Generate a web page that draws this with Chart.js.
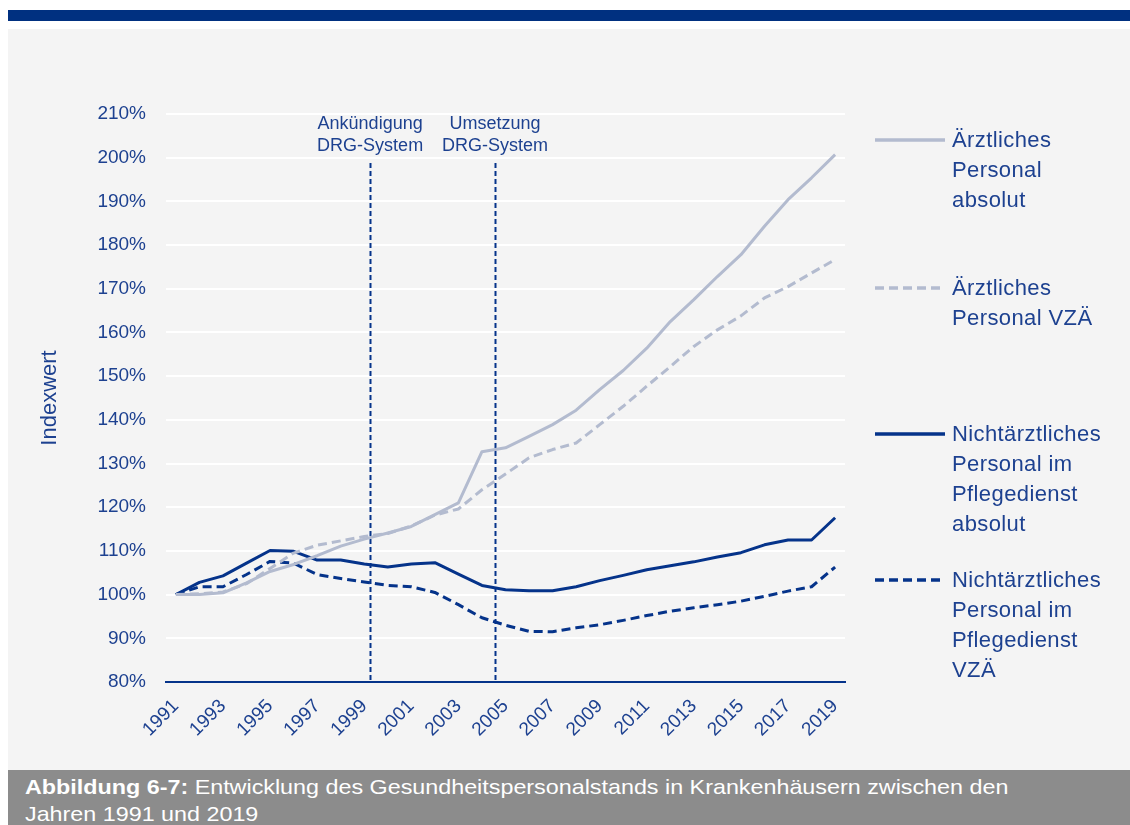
<!DOCTYPE html>
<html>
<head>
<meta charset="utf-8">
<script src="https://cdn.jsdelivr.net/npm/chart.js@4.4.1/dist/chart.umd.min.js"></script>
<style>
  html, body { margin:0; padding:0; background:#ffffff; width:1130px; height:825px; overflow:hidden; font-family:"Liberation Sans", Arial, sans-serif; }
  #bar { position:absolute; left:8px; top:10px; width:1122px; height:11px; background:#003080; }
  #panel { position:absolute; left:8px; top:29px; width:1122px; height:741px; background:#f4f4f4; }
  #capbox { position:absolute; left:8px; top:770px; width:1122px; height:55px; background:#8c8c8c; overflow:hidden; }
  #caption { position:absolute; left:17px; top:3px; color:#ffffff; white-space:nowrap;
             font-size:21px; line-height:27px; transform:scaleX(1.11); transform-origin:0 0; }
  #wrap { position:absolute; left:0; top:0; width:1130px; height:825px; }
</style>
</head>
<body>
<div id="bar"></div>
<div id="panel"></div>
<div id="capbox"><div id="caption"><b>Abbildung 6-7:</b> Entwicklung des Gesundheitspersonalstands in Krankenhäusern zwischen den<br>Jahren 1991 und 2019</div></div>
<div id="wrap"><canvas id="c" width="1130" height="825"></canvas></div>
<script>
const years = [1991,1992,1993,1994,1995,1996,1997,1998,1999,2000,2001,2002,2003,2004,2005,2006,2007,2008,2009,2010,2011,2012,2013,2014,2015,2016,2017,2018,2019];
const tickYears = [1991,1993,1995,1997,1999,2001,2003,2005,2007,2009,2011,2013,2015,2017,2019];

const aerztlichAbsolut = [100,100.0,100.4,102.7,105.3,106.9,108.9,111.1,112.7,114.1,115.6,118.3,121.0,132.7,133.6,136.2,138.9,142.2,146.9,151.3,156.4,162.5,167.5,172.8,177.8,184.3,190.4,195.4,200.7];
const aerztlichVZAE  = [100,100.2,100.6,102.5,106.0,109.5,111.3,112.3,113.3,114.0,115.7,118.2,119.6,124.0,127.6,131.3,133.2,134.7,138.9,143.1,147.7,152.2,156.8,160.6,163.8,167.9,170.5,173.6,176.7];
const pflegeAbsolut  = [100,102.8,104.3,107.2,110.1,109.9,107.9,107.9,107.0,106.3,107.0,107.3,104.7,102.1,101.1,100.9,100.9,101.8,103.2,104.4,105.7,106.6,107.5,108.6,109.6,111.4,112.5,112.5,117.6];
const pflegeVZAE     = [100,101.8,101.8,104.6,107.6,107.2,104.6,103.7,102.9,102.1,101.8,100.5,97.7,94.7,93.0,91.6,91.5,92.4,93.1,94.1,95.2,96.2,97.0,97.7,98.5,99.6,100.8,101.8,106.3];

const seriesLabels = [
  ["Ärztliches","Personal","absolut"],
  ["Ärztliches","Personal VZÄ"],
  ["Nichtärztliches","Personal im","Pflegedienst","absolut"],
  ["Nichtärztliches","Personal im","Pflegedienst","VZÄ"]
];
const eventYears = [1999.25, 2004.55];
const eventLabels = [["Ankündigung","DRG-System"],["Umsetzung","DRG-System"]];

const LIGHT = '#b3bbcf';
const DARK = '#05338a';
const TEXT = '#1d4190';
const FONT = '"Liberation Sans", Arial, sans-serif';

const toPts = arr => years.map((y,i)=>({x:y, y:arr[i]}));

const datasets = [
  {label:seriesLabels[0].join(' '), data:toPts(aerztlichAbsolut), borderColor:LIGHT, borderWidth:3, borderDash:[]},
  {label:seriesLabels[1].join(' '), data:toPts(aerztlichVZAE), borderColor:LIGHT, borderWidth:3, borderDash:[9,5]},
  {label:seriesLabels[2].join(' '), data:toPts(pflegeAbsolut), borderColor:DARK, borderWidth:3, borderDash:[]},
  {label:seriesLabels[3].join(' '), data:toPts(pflegeVZAE), borderColor:DARK, borderWidth:3, borderDash:[9,5]}
].map(d=>Object.assign(d,{pointRadius:0, fill:false, tension:0, borderCapStyle:'butt', borderJoinStyle:'round'}));

const legendY = [140, 288, 434, 580];

const overlay = {
  id:'overlay',
  beforeDatasetsDraw(chart){
    const ctx = chart.ctx, xs = chart.scales.x, a = chart.chartArea;
    ctx.save();
    ctx.strokeStyle = DARK; ctx.lineWidth = 2; ctx.setLineDash([5,3]);
    eventYears.forEach(v=>{
      const px = Math.round(xs.getPixelForValue(v)) + 0.5;
      ctx.beginPath(); ctx.moveTo(px, 163); ctx.lineTo(px, a.bottom); ctx.stroke();
    });
    ctx.setLineDash([]);
    ctx.fillStyle = TEXT; ctx.font = '18px ' + FONT; ctx.textAlign = 'center'; ctx.textBaseline = 'middle';
    eventYears.forEach((v,i)=>{
      const px = xs.getPixelForValue(v);
      eventLabels[i].forEach((t,j)=>ctx.fillText(t, px, 124 + j*22));
    });
    ctx.restore();
  },
  afterDraw(chart){
    const ctx = chart.ctx;
    ctx.save();
    chart.data.datasets.forEach((ds,i)=>{
      const y = legendY[i];
      ctx.strokeStyle = ds.borderColor; ctx.lineWidth = 3.5; ctx.setLineDash(ds.borderDash);
      ctx.beginPath(); ctx.moveTo(875, y); ctx.lineTo(945, y); ctx.stroke();
      ctx.setLineDash([]);
      ctx.fillStyle = TEXT; ctx.font = '22px ' + FONT; ctx.textAlign = 'left'; ctx.textBaseline = 'middle';
      if ('letterSpacing' in ctx) ctx.letterSpacing = '0.4px';
      seriesLabels[i].forEach((t,j)=>ctx.fillText(t, 952, y + 1 + j*30));
    });
    ctx.restore();
  }
};

new Chart(document.getElementById('c'), {
  type:'line',
  data:{datasets},
  options:{
    responsive:false,
    animation:false,
    layout:{padding:{left:0, top:114, right:285, bottom:0}},
    plugins:{legend:{display:false}, tooltip:{enabled:false}},
    scales:{
      x:{
        type:'linear', min:1990.58, max:2019.42,
        afterBuildTicks: s => { s.ticks = tickYears.map(v=>({value:v})); },
        afterFit: s => { s.height = 143; },
        grid:{display:false, drawTicks:false},
        border:{display:true, color:DARK, width:2},
        ticks:{autoSkip:false, minRotation:45, maxRotation:45, padding:13, color:TEXT, font:{family:FONT, size:19},
               callback: v => String(v)}
      },
      y:{
        min:80, max:210,
        afterBuildTicks: s => { const t=[]; for(let v=80; v<=210; v+=10) t.push({value:v}); s.ticks=t; },
        afterFit: s => { s.width = 166; },
        grid:{color:'#ffffff', lineWidth:2, drawTicks:false},
        border:{display:false},
        ticks:{padding:20, color:TEXT, font:{family:FONT, size:19}, callback: v => v + '%'},
        title:{display:true, text:'Indexwert', color:TEXT, font:{family:FONT, size:22}, padding:{top:37, bottom:0}}
      }
    }
  },
  plugins:[overlay]
});
</script>
</body>
</html>
